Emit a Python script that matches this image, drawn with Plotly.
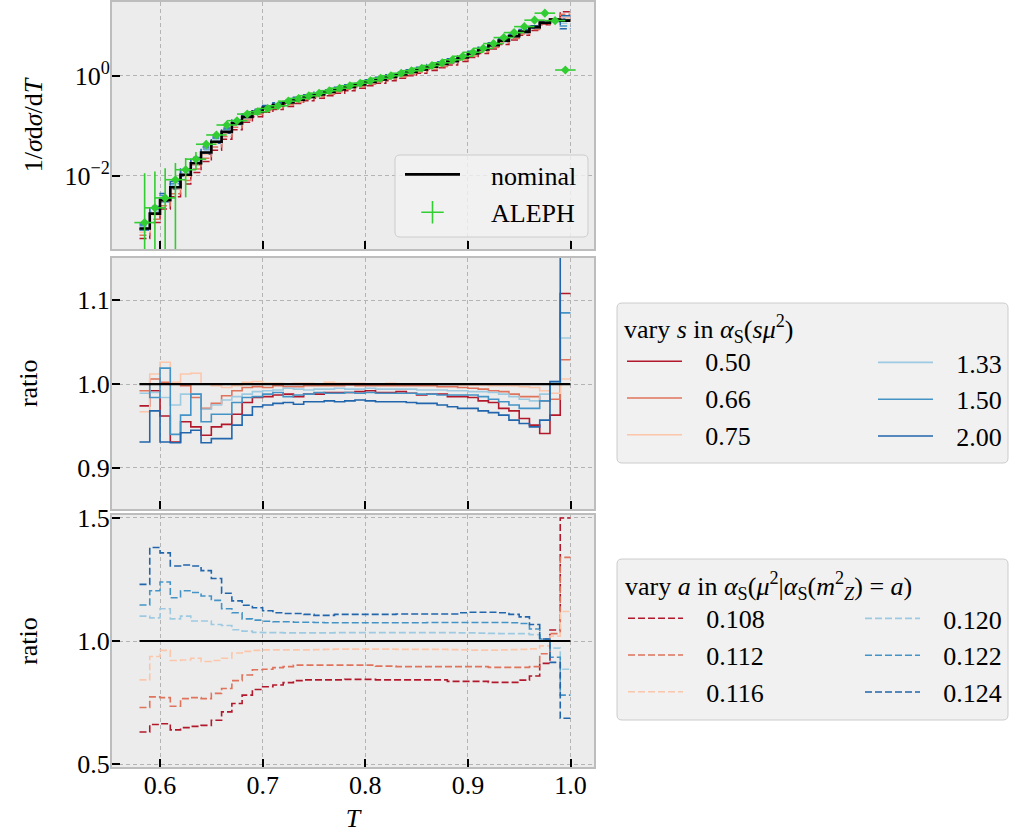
import numpy as np
import plotly.graph_objects as go

# ---------------- data ----------------
# thrust bins: 42 bins of width 0.01 from 0.58 to 1.00
T_EDGES = np.round(np.linspace(0.58, 1.00, 43), 3)
T_CENTERS = np.round(0.5 * (T_EDGES[:-1] + T_EDGES[1:]), 4)

NOMINAL = [8.71e-4, 1.738e-3, 3.236e-3, 5.888e-3, 1.047e-2, 1.778e-2, 2.917e-2, 4.786e-2,
           7.586e-2, 0.1122, 0.1514, 0.1905, 0.2291, 0.2600, 0.2951, 0.3350, 0.3802, 0.4266,
           0.4786, 0.5370, 0.6026, 0.6761, 0.7586, 0.8511, 0.9550, 1.072, 1.202, 1.349,
           1.531, 1.738, 1.995, 2.344, 2.818, 3.388, 4.169, 5.129, 6.310, 7.762, 9.550,
           11.75, 13.49, 12.88]

ALEPH = [1.148e-3, 2.265e-3, 3.589e-3, 8.318e-3, 1.318e-2, 2.148e-2, 4.276e-2, 6.561e-2,
         0.1040, 0.1268, 0.1722, 0.1914, 0.2234, 0.2523, 0.3126, 0.3548, 0.4027, 0.4519,
         0.5070, 0.5689, 0.6383, 0.7161, 0.8035, 0.9016, 1.012, 1.135, 1.274, 1.429,
         1.622, 1.841, 2.113, 2.483, 2.985, 3.589, 4.467, 5.888, 7.413, 9.772, 13.18,
         18.20, 12.88, 1.318]
ALEPH_ERR = [0.0101, 0.0099, 0.0106, 0.0096, 0.0095, 0.0085, 0.0080, 0.006, 0.006, 0.006,
             0.006, 0.006, 0.006, 0.006, 0.006, 0.007, 0.008, 0.009, 0.010, 0.011, 0.013,
             0.014, 0.016, 0.018, 0.020, 0.023, 0.025, 0.029, 0.032, 0.037, 0.042, 0.050,
             0.060, 0.070, 0.090, 0.12, 0.15, 0.20, 0.26, 0.36, 0.26, 0.05]
ALEPH_TERR = 0.01

# renormalisation-scale variations  (ratio to nominal)
SCALE_LABELS = ["0.50", "0.66", "0.75", "1.33", "1.50", "2.00"]
RATIO_S050 = [0.974, 0.992, 0.962, 0.931, 0.955, 0.949, 0.939, 0.949, 0.952, 0.964, 0.978,
              0.984, 0.985, 0.987, 0.988, 0.985, 0.988, 0.988, 0.990, 0.990, 0.990, 0.991,
              0.992, 0.990, 0.990, 0.991, 0.989, 0.987, 0.988, 0.988, 0.985, 0.985, 0.984,
              0.980, 0.978, 0.971, 0.968, 0.959, 0.951, 0.941, 0.963, 1.108]
RATIO_S066 = [0.992, 1.006, 1.002, 1.000, 0.998, 0.984, 0.971, 0.977, 0.986, 0.992, 0.996,
              0.997, 0.996, 0.998, 0.997, 0.997, 0.998, 0.998, 0.998, 0.998, 0.999, 0.998,
              0.998, 0.998, 0.998, 0.998, 0.998, 0.998, 0.998, 0.997, 0.997, 0.996, 0.995,
              0.994, 0.992, 0.991, 0.988, 0.985, 0.985, 0.980, 0.982, 1.029]
RATIO_S075 = [0.967, 1.012, 1.026, 1.002, 1.012, 1.013, 1.000, 0.998, 0.996, 0.998, 1.002,
              1.003, 1.001, 1.001, 1.000, 1.001, 1.001, 1.000, 1.002, 1.001, 1.001, 1.001,
              1.000, 1.000, 1.001, 1.000, 1.000, 1.000, 1.000, 1.000, 1.000, 0.999, 0.999,
              0.999, 0.998, 0.998, 0.998, 0.997, 0.996, 0.992, 0.989, 1.006]
RATIO_S133 = [0.989, 0.990, 0.984, 0.975, 0.988, 0.988, 0.970, 0.975, 0.981, 0.985, 0.988,
              0.991, 0.992, 0.993, 0.995, 0.994, 0.993, 0.994, 0.994, 0.995, 0.994, 0.994,
              0.995, 0.994, 0.994, 0.994, 0.994, 0.993, 0.993, 0.993, 0.992, 0.992, 0.991,
              0.991, 0.990, 0.988, 0.985, 0.982, 0.980, 0.988, 1.003, 1.055]
RATIO_S150 = [1.000, 0.984, 1.019, 0.940, 0.963, 0.988, 0.955, 0.964, 0.964, 0.978, 0.984,
              0.985, 0.988, 0.990, 0.985, 0.987, 0.988, 0.990, 0.989, 0.989, 0.990, 0.989,
              0.990, 0.989, 0.989, 0.989, 0.989, 0.988, 0.988, 0.987, 0.987, 0.987, 0.987,
              0.985, 0.982, 0.979, 0.975, 0.971, 0.971, 0.980, 1.001, 1.085]
RATIO_S200 = [0.931, 0.968, 0.931, 0.930, 0.942, 0.945, 0.930, 0.935, 0.935, 0.951, 0.963,
              0.973, 0.975, 0.977, 0.978, 0.976, 0.979, 0.979, 0.980, 0.979, 0.980, 0.981,
              0.980, 0.979, 0.979, 0.979, 0.978, 0.977, 0.977, 0.975, 0.973, 0.971, 0.971,
              0.968, 0.966, 0.963, 0.957, 0.953, 0.949, 0.957, 1.003, 1.250]

# alpha_s(m_Z^2) variations (ratio to nominal)
AS_LABELS = ["0.108", "0.112", "0.116", "0.120", "0.122", "0.124"]
RATIO_A108 = [0.630, 0.661, 0.664, 0.639, 0.648, 0.653, 0.657, 0.678, 0.712, 0.746, 0.780,
              0.803, 0.814, 0.821, 0.831, 0.839, 0.842, 0.842, 0.842, 0.842, 0.844, 0.844,
              0.844, 0.842, 0.842, 0.842, 0.842, 0.842, 0.842, 0.842, 0.836, 0.836, 0.836,
              0.836, 0.832, 0.832, 0.832, 0.841, 0.858, 0.909, 1.045, 1.500]
RATIO_A112 = [0.730, 0.773, 0.770, 0.735, 0.766, 0.770, 0.766, 0.787, 0.807, 0.839, 0.862,
              0.883, 0.885, 0.892, 0.896, 0.902, 0.902, 0.902, 0.902, 0.902, 0.902, 0.902,
              0.902, 0.898, 0.898, 0.896, 0.896, 0.896, 0.896, 0.896, 0.896, 0.896, 0.896,
              0.896, 0.893, 0.893, 0.893, 0.893, 0.896, 0.948, 1.030, 1.340]
RATIO_A116 = [0.842, 0.937, 0.962, 0.921, 0.923, 0.930, 0.917, 0.921, 0.930, 0.951, 0.958,
              0.962, 0.964, 0.964, 0.964, 0.964, 0.964, 0.965, 0.966, 0.967, 0.967, 0.967,
              0.967, 0.967, 0.967, 0.966, 0.966, 0.966, 0.966, 0.966, 0.965, 0.964, 0.963,
              0.963, 0.963, 0.964, 0.965, 0.966, 0.968, 0.980, 1.020, 1.120]
RATIO_A120 = [1.101, 1.094, 1.131, 1.090, 1.101, 1.081, 1.081, 1.067, 1.063, 1.046, 1.040,
              1.035, 1.034, 1.034, 1.033, 1.033, 1.033, 1.033, 1.033, 1.034, 1.034, 1.034,
              1.034, 1.034, 1.034, 1.034, 1.034, 1.034, 1.034, 1.034, 1.034, 1.033, 1.033,
              1.032, 1.031, 1.030, 1.030, 1.030, 1.026, 1.005, 0.971, 0.885]
RATIO_A122 = [1.146, 1.204, 1.240, 1.176, 1.204, 1.197, 1.183, 1.165, 1.131, 1.115, 1.090,
              1.085, 1.080, 1.078, 1.078, 1.076, 1.076, 1.075, 1.074, 1.074, 1.074, 1.074,
              1.074, 1.074, 1.074, 1.074, 1.074, 1.074, 1.075, 1.075, 1.075, 1.075, 1.075,
              1.075, 1.075, 1.075, 1.074, 1.071, 1.049, 1.008, 0.934, 0.780]
RATIO_A124 = [1.230, 1.380, 1.358, 1.305, 1.309, 1.305, 1.286, 1.254, 1.194, 1.163, 1.145,
              1.135, 1.123, 1.115, 1.112, 1.112, 1.108, 1.104, 1.104, 1.108, 1.108, 1.108,
              1.108, 1.108, 1.108, 1.110, 1.110, 1.110, 1.110, 1.110, 1.110, 1.115, 1.117,
              1.117, 1.117, 1.115, 1.108, 1.098, 1.067, 1.008, 0.913, 0.686]

SCALE_RATIOS = [RATIO_S050, RATIO_S066, RATIO_S075, RATIO_S133, RATIO_S150, RATIO_S200]
AS_RATIOS = [RATIO_A108, RATIO_A112, RATIO_A116, RATIO_A120, RATIO_A122, RATIO_A124]

X_TICKS = [0.6, 0.7, 0.8, 0.9, 1.0]
X_TICKTEXT = ["0.6", "0.7", "0.8", "0.9", "1.0"]

# ---------------- style ----------------
W, H = 1010, 834
FONT = "Liberation Serif, Times New Roman, serif"
FS = 26
COLORS = ["#b2182b", "#e0735b", "#fcc6aa", "#9dcae1", "#4493c6", "#2166ac"]
ALEPH_COLOR = "#32cd32"
DASH = "7px,3px"
SPACER = "\u2002\u2009"


def px_x(x):
    return x / W


def px_y(y):
    return 1 - y / H


XDOM = [px_x(112), px_x(594)]
YDOM1 = [px_y(249), px_y(2)]
YDOM2 = [px_y(509), px_y(257.5)]
YDOM3 = [px_y(767), px_y(515)]
XRANGE = [0.5532, 1.0229]


def steps(vals):
    v = list(vals)
    return list(T_EDGES), v + [v[-1]]


fig = go.Figure()

nominal = np.array(NOMINAL)

# ---- top panel: distributions ----
for lab, r, c in zip(SCALE_LABELS, SCALE_RATIOS, COLORS):
    x, y = steps(nominal * np.array(r))
    fig.add_trace(go.Scatter(x=x, y=y, mode="lines", line=dict(color=c, width=1.5, shape="hv"),
                             xaxis="x", yaxis="y", showlegend=False, hoverinfo="skip"))
for lab, r, c in zip(AS_LABELS, AS_RATIOS, COLORS):
    x, y = steps(nominal * np.array(r))
    fig.add_trace(go.Scatter(x=x, y=y, mode="lines",
                             line=dict(color=c, width=1.5, shape="hv", dash=DASH),
                             xaxis="x", yaxis="y", showlegend=False, hoverinfo="skip"))
x, y = steps(nominal)
fig.add_trace(go.Scatter(x=x, y=y, mode="lines", line=dict(color="black", width=2.6, shape="hv"),
                         name="\u2003nominal", legend="legend", legendgroup="nom",
                         xaxis="x", yaxis="y"))
fig.add_trace(go.Scatter(x=T_CENTERS, y=ALEPH, mode="markers",
                         marker=dict(symbol="diamond", size=7, color=ALEPH_COLOR),
                         error_y=dict(type="data", array=ALEPH_ERR, color=ALEPH_COLOR,
                                      thickness=1.6, width=0),
                         error_x=dict(type="constant", value=ALEPH_TERR, color=ALEPH_COLOR,
                                      thickness=1.6, width=0),
                         xaxis="x", yaxis="y", showlegend=False, name="ALEPH"))
# legend handle for ALEPH (errorbar cross)
fig.add_trace(go.Scatter(x=[None], y=[None], mode="markers",
                         marker=dict(symbol="cross-thin-open", size=24, color=ALEPH_COLOR,
                                     line=dict(color=ALEPH_COLOR, width=1.6)),
                         name="\u2003ALEPH", legend="legend", legendgroup="aleph",
                         xaxis="x", yaxis="y"))

# ---- middle panel: scale variation ratios ----
for i, (lab, r, c) in enumerate(zip(SCALE_LABELS, SCALE_RATIOS, COLORS)):
    x, y = steps(r)
    fig.add_trace(go.Scatter(x=x, y=y, mode="lines", line=dict(color=c, width=1.6, shape="hv"),
                             name=SPACER + lab, legend="legend2" if i < 3 else "legend4",
                             legendgroup="s" + lab, xaxis="x2", yaxis="y2"))
x, y = steps(nominal / nominal)
fig.add_trace(go.Scatter(x=x, y=y, mode="lines", line=dict(color="black", width=2.2, shape="hv"),
                         xaxis="x2", yaxis="y2", showlegend=False, hoverinfo="skip"))

# ---- bottom panel: alpha_s variation ratios ----
for i, (lab, r, c) in enumerate(zip(AS_LABELS, AS_RATIOS, COLORS)):
    x, y = steps(r)
    fig.add_trace(go.Scatter(x=x, y=y, mode="lines",
                             line=dict(color=c, width=1.6, shape="hv", dash=DASH),
                             name=SPACER + lab, legend="legend3" if i < 3 else "legend5",
                             legendgroup="a" + lab, xaxis="x3", yaxis="y3"))
x, y = steps(nominal / nominal)
fig.add_trace(go.Scatter(x=x, y=y, mode="lines", line=dict(color="black", width=2.2, shape="hv"),
                         xaxis="x3", yaxis="y3", showlegend=False, hoverinfo="skip"))

# ---------------- axes ----------------
axis_common = dict(showline=True, linecolor="#bdbdbd", linewidth=2, mirror=True,
                   ticks="inside", ticklen=8, tickwidth=1.6, tickcolor="black",
                   showgrid=True, gridcolor="#b4b4b4", gridwidth=1, griddash="4px,3px",
                   zeroline=False, automargin=False,
                   tickfont=dict(family=FONT, size=FS, color="black"))

xcommon = dict(axis_common, range=XRANGE, tickmode="array", tickvals=X_TICKS,
               ticktext=X_TICKTEXT, domain=XDOM)

fig.update_layout(
    width=W, height=H, margin=dict(l=0, r=0, t=0, b=0, autoexpand=False),
    paper_bgcolor="white", plot_bgcolor="#ececec",
    font=dict(family=FONT, size=FS, color="black"),
    xaxis=dict(xcommon, anchor="y", showticklabels=False),
    xaxis2=dict(xcommon, anchor="y2", showticklabels=False, matches="x"),
    xaxis3=dict(xcommon, anchor="y3", matches="x", ticklabelstandoff=-6,
                title=dict(text="<i>T</i>", standoff=10, font=dict(size=FS))),
    yaxis=dict(axis_common, domain=YDOM1, anchor="x", type="log", range=[-3.47, 1.484],
               tickmode="array", tickvals=[1e-2, 1], ticklabelstandoff=-5,
               ticktext=["10<sup>\u22122</sup>", "10<sup>0</sup>"],
               title=dict(text="1/<i>\u03c3</i>d<i>\u03c3</i>/d<i>T</i>", standoff=14,
                          font=dict(size=FS))),
    yaxis2=dict(axis_common, domain=YDOM2, anchor="x2", range=[0.851, 1.151],
                tickmode="array", tickvals=[0.9, 1.0, 1.1], ticktext=["0.9", "1.0", "1.1"],
                ticklabelstandoff=-5,
                title=dict(text="ratio", standoff=32, font=dict(size=FS))),
    yaxis3=dict(axis_common, domain=YDOM3, anchor="x3", range=[0.488, 1.512],
                tickmode="array", tickvals=[0.5, 1.0, 1.5], ticktext=["0.5", "1.0", "1.5"],
                ticklabelstandoff=-5,
                title=dict(text="ratio", standoff=32, font=dict(size=FS))),
)

leg_common = dict(xanchor="left", yanchor="top", bgcolor="rgba(0,0,0,0)", borderwidth=0,
                  itemwidth=55, traceorder="grouped", tracegroupgap=0,
                  font=dict(family=FONT, size=FS, color="black"))

fig.update_layout(
    legend=dict(leg_common, x=px_x(400), y=px_y(151), tracegroupgap=1),
    legend2=dict(leg_common, x=px_x(622), y=px_y(304),
                 title=dict(text="vary <i>s</i> in <i>\u03b1</i><sub>S</sub>(<i>s\u03bc</i><sup>2</sup>)",
                            font=dict(family=FONT, size=FS))),
    legend4=dict(leg_common, x=px_x(873), y=px_y(339)),
    legend3=dict(leg_common, x=px_x(623), y=px_y(561),
                 title=dict(text="vary <i>a</i> in <i>\u03b1</i><sub>S</sub>(<i>\u03bc</i><sup>2</sup>|"
                                 "<i>\u03b1</i><sub>S</sub>(<i>m</i><sup>2</sup><sub><i>Z</i></sub>) = <i>a</i>)",
                            font=dict(family=FONT, size=FS))),
    legend5=dict(leg_common, x=px_x(860), y=px_y(595)),
)


def rounded_box(x0, y0, x1, y1, r=5):
    rx, ry = r / W, r / H
    X0, X1 = px_x(x0), px_x(x1)
    Y0, Y1 = px_y(y0), px_y(y1)  # Y0 top, Y1 bottom in paper coords
    return (f"M{X0 + rx},{Y0} L{X1 - rx},{Y0} Q{X1},{Y0} {X1},{Y0 - ry} "
            f"L{X1},{Y1 + ry} Q{X1},{Y1} {X1 - rx},{Y1} L{X0 + rx},{Y1} "
            f"Q{X0},{Y1} {X0},{Y1 + ry} L{X0},{Y0 - ry} Q{X0},{Y0} {X0 + rx},{Y0} Z")


fig.update_layout(shapes=[
    dict(type="path", xref="paper", yref="paper", path=rounded_box(395, 155, 588, 237),
         fillcolor="rgba(243,243,243,0.8)", line=dict(color="#cccccc", width=1), layer="above"),
    dict(type="path", xref="paper", yref="paper", path=rounded_box(617, 303, 1008, 463),
         fillcolor="#f1f1f1", line=dict(color="#cccccc", width=1), layer="above"),
    dict(type="path", xref="paper", yref="paper", path=rounded_box(617, 559, 1008, 720),
         fillcolor="#f1f1f1", line=dict(color="#cccccc", width=1), layer="above"),
])

fig.write_html("out.html", config={"displayModeBar": False},
               post_script="document.body.style.margin='0';document.body.style.overflow='hidden';")
